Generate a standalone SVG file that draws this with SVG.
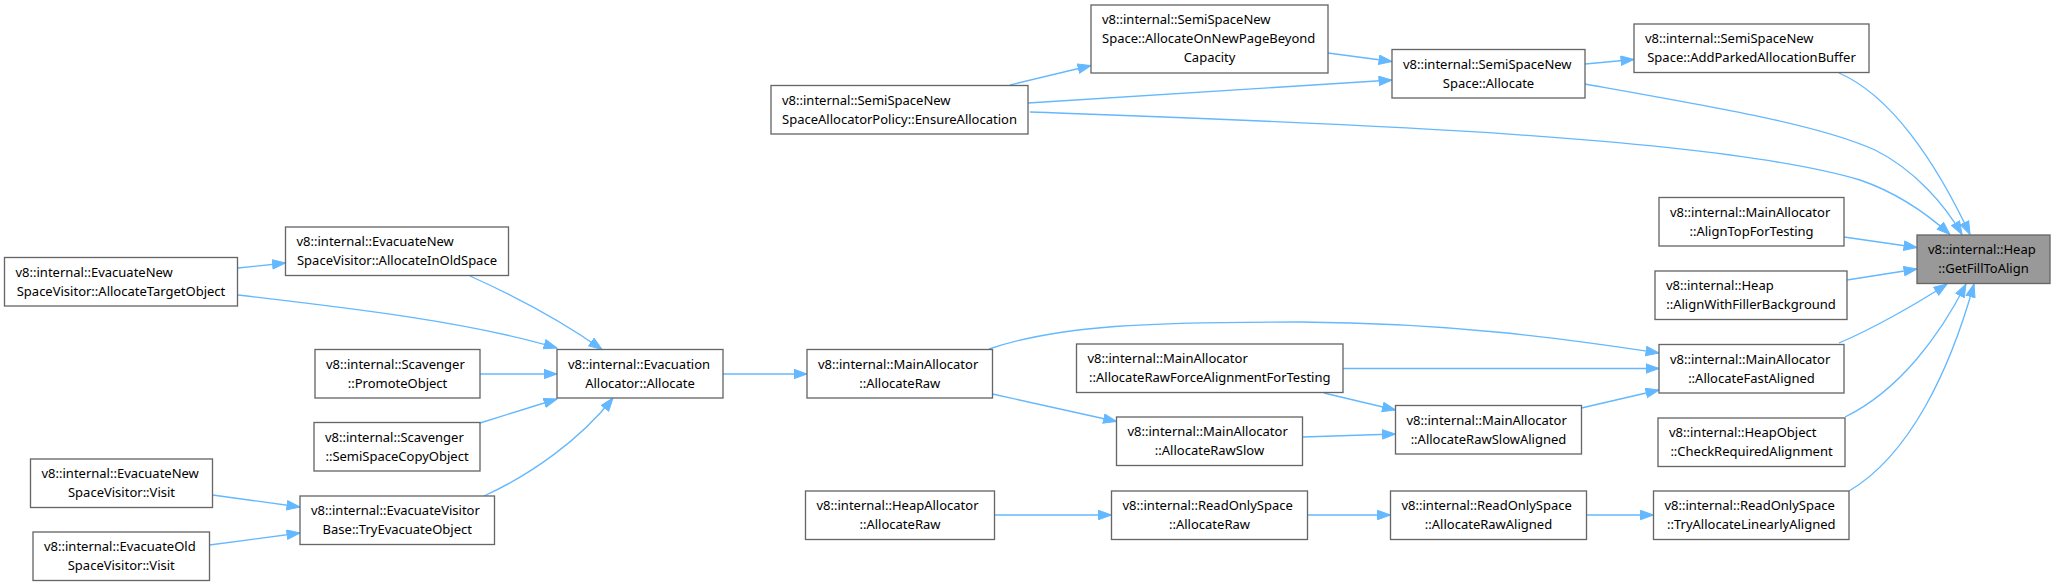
<svg xmlns="http://www.w3.org/2000/svg" width="2055" height="586" viewBox="0 0 2055 586">
<style>
.node rect{fill:#ffffff;stroke:#666666;stroke-width:1.33}
.node.hl rect{fill:#999999}
text{font-family:"Noto Sans","DejaVu Sans",sans-serif;font-size:13px;fill:#000000}
.s{text-anchor:start}
.m{text-anchor:middle}
.edges path{fill:none;stroke:#63b8ff;stroke-width:1.33;marker-end:url(#ah)}
</style>
<defs>
<marker id="ah" markerUnits="userSpaceOnUse" markerWidth="15" markerHeight="11" viewBox="0 0 15 11" refX="13.5" refY="5.2" orient="auto">
<path d="M0.5,0.5 L13.5,5.2 L0.5,9.9 z" fill="#63b8ff" stroke="#63b8ff" stroke-width="1"/>
</marker>
</defs>
<rect x="0" y="0" width="2055" height="586" fill="#ffffff"/>
<g id="edges" class="edges">
<path d="M1010,85 L1091,65.5"/>
<path d="M1328,53 L1392,61.5"/>
<path d="M1028,103 L1392,80"/>
<path d="M1030,112 C1300,122 1710,135 1860,180 C1895,192 1925,212 1950,234.5"/>
<path d="M1585,64 L1634,59.5"/>
<path d="M1585,84 C1720,108 1820,125 1875,150 C1915,170 1945,205 1962,234.5"/>
<path d="M1839,73 C1890,95 1935,160 1970,234.5"/>
<path d="M1844,237 L1917,247.5"/>
<path d="M1847,280 L1917,269"/>
<path d="M1839,343 C1870,330 1915,305 1947,284"/>
<path d="M1845,417 C1900,390 1940,335 1966,284"/>
<path d="M1849,491 C1910,455 1950,370 1974,284"/>
<path d="M989,349 C1060,325 1150,322 1300,322 C1450,323 1560,338 1659,353"/>
<path d="M1343,368.5 L1659,368.5"/>
<path d="M1324,393 L1395.5,410"/>
<path d="M1581.5,408 L1659,390"/>
<path d="M992.5,394 L1116.5,421.5"/>
<path d="M1302.5,437 L1395.5,434"/>
<path d="M994.5,515 L1111.5,515"/>
<path d="M1307.5,515 L1390.5,515"/>
<path d="M1586.5,515 L1653.5,515"/>
<path d="M723,374 L807,374"/>
<path d="M238,268 L285.5,263"/>
<path d="M238,295 C350,308 470,322 557,348"/>
<path d="M470,276 C510,294 560,320 602,349.5"/>
<path d="M480,374 L557,374"/>
<path d="M480,423 L557,399"/>
<path d="M484,496 C530,475 580,440 613,398"/>
<path d="M212.5,495 L300,507"/>
<path d="M209.5,545 L300,533"/>
</g>
<g id="n1" class="node"><rect x="1091" y="5" width="237" height="68"/><text class="s" x="1102" y="24">v8::internal::SemiSpaceNew</text><text class="s" x="1102" y="43">Space::AllocateOnNewPageBeyond</text><text class="m" x="1209.5" y="62">Capacity</text></g>
<g id="n2" class="node"><rect x="1392" y="49.5" width="193" height="48.5"/><text class="s" x="1403" y="68.5">v8::internal::SemiSpaceNew</text><text class="m" x="1488.5" y="87.5">Space::Allocate</text></g>
<g id="n3" class="node"><rect x="1634" y="24" width="235" height="48.5"/><text class="s" x="1645" y="43">v8::internal::SemiSpaceNew</text><text class="m" x="1751.5" y="62">Space::AddParkedAllocationBuffer</text></g>
<g id="n4" class="node"><rect x="771" y="85.5" width="257" height="48.5"/><text class="s" x="782" y="104.5">v8::internal::SemiSpaceNew</text><text class="m" x="899.5" y="123.5">SpaceAllocatorPolicy::EnsureAllocation</text></g>
<g id="n5" class="node"><rect x="1659" y="197.5" width="185" height="48.5"/><text class="s" x="1670" y="216.5">v8::internal::MainAllocator</text><text class="m" x="1751.5" y="235.5">::AlignTopForTesting</text></g>
<g id="n6" class="node hl"><rect x="1917" y="235" width="133" height="48.5"/><text class="s" x="1928" y="254">v8::internal::Heap</text><text class="m" x="1983.5" y="273">::GetFillToAlign</text></g>
<g id="n7" class="node"><rect x="1655" y="271" width="192" height="48.5"/><text class="s" x="1666" y="290">v8::internal::Heap</text><text class="m" x="1751" y="309">::AlignWithFillerBackground</text></g>
<g id="n8" class="node"><rect x="1659" y="344.5" width="185" height="48.5"/><text class="s" x="1670" y="363.5">v8::internal::MainAllocator</text><text class="m" x="1751.5" y="382.5">::AllocateFastAligned</text></g>
<g id="n9" class="node"><rect x="1658" y="418" width="187" height="48.5"/><text class="s" x="1669" y="437">v8::internal::HeapObject</text><text class="m" x="1751.5" y="456">::CheckRequiredAlignment</text></g>
<g id="n10" class="node"><rect x="1653.5" y="491" width="195.5" height="48.5"/><text class="s" x="1664.5" y="510">v8::internal::ReadOnlySpace</text><text class="m" x="1751.25" y="529">::TryAllocateLinearlyAligned</text></g>
<g id="n11" class="node"><rect x="1395.5" y="405.5" width="186" height="48.5"/><text class="s" x="1406.5" y="424.5">v8::internal::MainAllocator</text><text class="m" x="1488.5" y="443.5">::AllocateRawSlowAligned</text></g>
<g id="n12" class="node"><rect x="1390.5" y="491" width="196" height="48.5"/><text class="s" x="1401.5" y="510">v8::internal::ReadOnlySpace</text><text class="m" x="1488.5" y="529">::AllocateRawAligned</text></g>
<g id="n13" class="node"><rect x="1111.5" y="491" width="196" height="48.5"/><text class="s" x="1122.5" y="510">v8::internal::ReadOnlySpace</text><text class="m" x="1209.5" y="529">::AllocateRaw</text></g>
<g id="n14" class="node"><rect x="805.5" y="491" width="189" height="48.5"/><text class="s" x="816.5" y="510">v8::internal::HeapAllocator</text><text class="m" x="900" y="529">::AllocateRaw</text></g>
<g id="n15" class="node"><rect x="1116.5" y="417" width="186" height="48.5"/><text class="s" x="1127.5" y="436">v8::internal::MainAllocator</text><text class="m" x="1209.5" y="455">::AllocateRawSlow</text></g>
<g id="n16" class="node"><rect x="1076.5" y="344" width="266.5" height="48.5"/><text class="s" x="1087.5" y="363">v8::internal::MainAllocator</text><text class="m" x="1209.75" y="382">::AllocateRawForceAlignmentForTesting</text></g>
<g id="n17" class="node"><rect x="807" y="349.5" width="185.5" height="48.5"/><text class="s" x="818" y="368.5">v8::internal::MainAllocator</text><text class="m" x="899.75" y="387.5">::AllocateRaw</text></g>
<g id="n18" class="node"><rect x="557" y="349.5" width="166" height="48.5"/><text class="s" x="568" y="368.5">v8::internal::Evacuation</text><text class="m" x="640" y="387.5">Allocator::Allocate</text></g>
<g id="n19" class="node"><rect x="4.5" y="257.5" width="233" height="48.5"/><text class="s" x="15.5" y="276.5">v8::internal::EvacuateNew</text><text class="m" x="121" y="295.5">SpaceVisitor::AllocateTargetObject</text></g>
<g id="n20" class="node"><rect x="285.5" y="227" width="223" height="48.5"/><text class="s" x="296.5" y="246">v8::internal::EvacuateNew</text><text class="m" x="397" y="265">SpaceVisitor::AllocateInOldSpace</text></g>
<g id="n21" class="node"><rect x="315" y="349.5" width="165" height="48.5"/><text class="s" x="326" y="368.5">v8::internal::Scavenger</text><text class="m" x="397.5" y="387.5">::PromoteObject</text></g>
<g id="n22" class="node"><rect x="314" y="422.5" width="166" height="48.5"/><text class="s" x="325" y="441.5">v8::internal::Scavenger</text><text class="m" x="397" y="460.5">::SemiSpaceCopyObject</text></g>
<g id="n23" class="node"><rect x="30.5" y="459" width="182" height="48.5"/><text class="s" x="41.5" y="478">v8::internal::EvacuateNew</text><text class="m" x="121.5" y="497">SpaceVisitor::Visit</text></g>
<g id="n24" class="node"><rect x="300" y="496" width="194.5" height="48.5"/><text class="s" x="311" y="515">v8::internal::EvacuateVisitor</text><text class="m" x="397.25" y="534">Base::TryEvacuateObject</text></g>
<g id="n25" class="node"><rect x="33" y="532" width="176.5" height="48.5"/><text class="s" x="44" y="551">v8::internal::EvacuateOld</text><text class="m" x="121.25" y="570">SpaceVisitor::Visit</text></g>
</svg>
